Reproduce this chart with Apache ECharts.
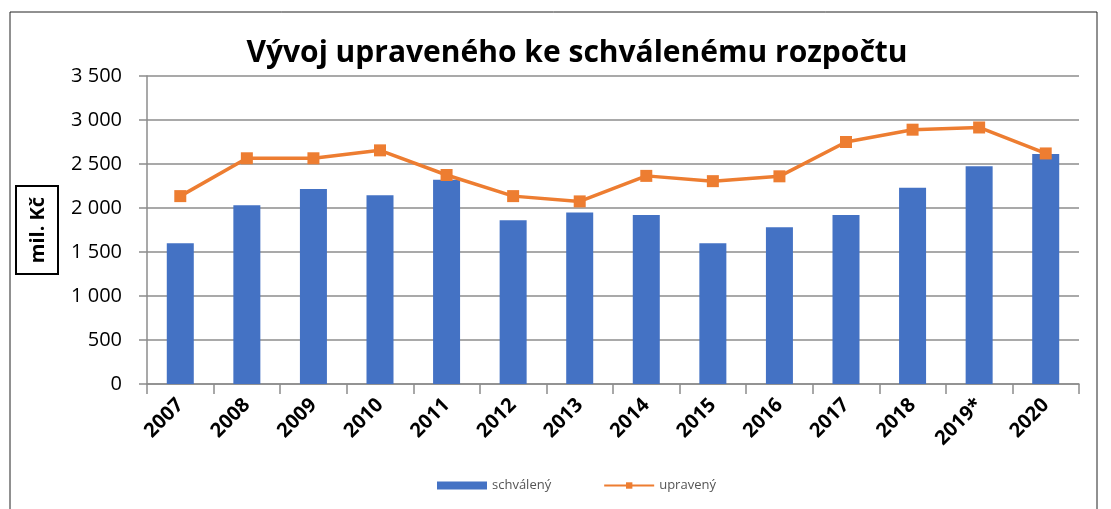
<!DOCTYPE html>
<html>
<head>
<meta charset="utf-8">
<script src="https://cdn.jsdelivr.net/npm/echarts@6/dist/echarts.min.js"></script>
<style>
  html, body { margin: 0; padding: 0; background: #fff; }
  #chart { width: 1111px; height: 509px; }
</style>
</head>
<body>
<div id="chart"></div>
<script>
// data (mil. Kč)
const years = ['2007', '2008', '2009', '2010', '2011', '2012', '2013', '2014', '2015', '2016', '2017', '2018', '2019*', '2020']
const schvaleny = [1600, 2030, 2215, 2145, 2320, 1860, 1950, 1920, 1600, 1780, 1920, 2230, 2475, 2615]
const upraveny = [2135, 2565, 2565, 2655, 2375, 2135, 2075, 2365, 2305, 2360, 2750, 2890, 2915, 2620]

const font = 'Open Sans'

// 3500 -> "3 500"
function fmt (v) {
  return String(v).replace(/\B(?=(\d{3})+(?!\d))/g, ' ')
}

const chart = echarts.init(document.getElementById('chart'))
const option = {
  animation: false,
  textStyle: { fontFamily: font },
  title: {
    text: 'Vývoj upraveného ke schválenému rozpočtu',
    left: 572,
    top: 33,
    textAlign: 'center',
    textStyle: { fontFamily: font, fontSize: 30, fontWeight: 'bold', color: '#000' }
  },
  graphic: [
    {
      type: 'rect',
      shape: { x: 10, y: 12, width: 1087, height: 520 },
      style: { fill: 'none', stroke: '#222', lineWidth: 1 },
      silent: true
    },
    {
      type: 'group',
      x: 37,
      y: 230,
      rotation: Math.PI / 2,
      children: [
        {
          type: 'rect',
          shape: { x: -44, y: -21, width: 88, height: 42 },
          style: { fill: '#fff', stroke: '#000', lineWidth: 2 }
        },
        {
          type: 'text',
          style: {
            text: 'mil. Kč',
            x: 0,
            y: 1,
            align: 'center',
            verticalAlign: 'middle',
            font: 'bold 20px "Open Sans"',
            fill: '#000'
          }
        }
      ]
    }
  ],
  legend: {
    bottom: 12,
    left: 432,
    itemGap: 52,
    itemWidth: 50,
    itemHeight: 8,
    textStyle: { fontFamily: font, fontSize: 13, color: '#555' },
    data: [
      { name: 'schválený', icon: 'rect' },
      { name: 'upravený' }
    ]
  },
  grid: {
    left: 147,
    right: 32,
    top: 76,
    bottom: 125
  },
  xAxis: {
    type: 'category',
    data: years,
    axisLine: { lineStyle: { color: '#8c8c8c', width: 1.5 } },
    axisTick: { show: true, length: 10, lineStyle: { color: '#8c8c8c', width: 1.5 } },
    axisLabel: {
      rotate: 45,
      margin: 18,
      fontFamily: font,
      fontSize: 20,
      fontWeight: 'bold',
      color: '#000'
    }
  },
  yAxis: {
    type: 'value',
    min: 0,
    max: 3500,
    interval: 500,
    axisLine: { show: true, lineStyle: { color: '#8c8c8c', width: 1.5 } },
    axisTick: { show: true, length: 8, lineStyle: { color: '#8c8c8c', width: 1.5 } },
    splitLine: { lineStyle: { color: '#8c8c8c', width: 1.5 } },
    axisLabel: {
      margin: 25,
      fontFamily: font,
      fontSize: 20,
      color: '#000',
      formatter: fmt
    }
  },
  series: [
    {
      name: 'schválený',
      type: 'bar',
      data: schvaleny,
      barWidth: 27,
      itemStyle: { color: '#4472C4' }
    },
    {
      name: 'upravený',
      type: 'line',
      data: upraveny,
      symbol: 'rect',
      symbolSize: 12,
      lineStyle: { color: '#ED7D31', width: 3.5 },
      itemStyle: { color: '#ED7D31' }
    }
  ]
}
chart.setOption(option)
</script>
</body>
</html>
